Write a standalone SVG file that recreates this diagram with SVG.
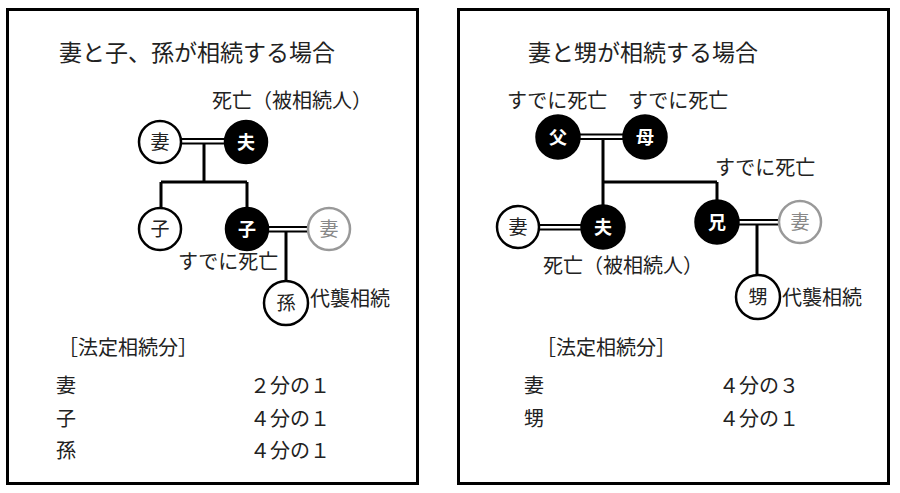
<svg xmlns="http://www.w3.org/2000/svg" width="900" height="493" viewBox="0 0 900 493">
<style>
  text { font-family: "Noto Sans CJK JP", "Noto Sans", sans-serif; fill: #222; }
  .title { font-size: 23px; }
  .lbl { font-size: 20px; }
  .nd { font-size: 19px; text-anchor: middle; }
  .ndw circle { fill: #fff; stroke: #000; stroke-width: 2.5; }
  .ndb circle { fill: #000; stroke: #000; stroke-width: 2.5; }
  .ndb text { fill: #fff; font-weight: bold; font-size: 18px; }
  .ndg circle { fill: #fff; stroke: #999; stroke-width: 2.5; }
  .ndg text { fill: #888; }
  .frame { fill: #fff; stroke: #000; stroke-width: 3; }
  .ln { stroke: #000; stroke-width: 3; fill: none; }
  .dbl { stroke: #000; stroke-width: 1.8; fill: none; }
</style>
<rect width="900" height="493" fill="#fff"/>
<rect class="frame" x="7.5" y="9.5" width="410" height="474"/>
<rect class="frame" x="458.5" y="9.5" width="430" height="474"/>

<g id="connectors">
  <!-- left -->
  <path class="dbl" d="M180 139H226M180 143.5H226"/>
  <path class="ln" d="M204 143.5V182M161 182H247M161 182V208M247 182V208"/>
  <path class="dbl" d="M268 227H308M268 231.5H308"/>
  <path class="ln" d="M286 231.5V281"/>
  <!-- right -->
  <path class="dbl" d="M580 134.5H624M580 139H624"/>
  <path class="ln" d="M603 139V206M603 182H717M717 182V201"/>
  <path class="dbl" d="M539 225H582M539 229.5H582"/>
  <path class="dbl" d="M738 220H779M738 224.5H779"/>
  <path class="ln" d="M757 224.5V275"/>
</g>

<g id="left-title"><text class="title" x="59" y="61">妻と子、孫が相続する場合</text></g>
<g id="left-labels">
  <text class="lbl" x="212" y="107.6">死亡（被相続人）</text>
  <text class="lbl" x="178" y="268.6">すでに死亡</text>
  <text class="lbl" x="310" y="305.6">代襲相続</text>
</g>
<g id="l-wife" class="ndw"><circle cx="160" cy="142" r="21"/><text class="nd" x="160" y="149">妻</text></g>
<g id="l-husband" class="ndb"><circle cx="246" cy="142" r="21"/><text class="nd" x="246" y="148.5">夫</text></g>
<g id="l-child1" class="ndw"><circle cx="160" cy="229" r="21"/><text class="nd" x="160" y="236">子</text></g>
<g id="l-child2" class="ndb"><circle cx="247" cy="229" r="21"/><text class="nd" x="247" y="235.5">子</text></g>
<g id="l-child2-wife" class="ndg"><circle cx="329" cy="229" r="21"/><text class="nd" x="329" y="236">妻</text></g>
<g id="l-grandchild" class="ndw"><circle cx="286" cy="303" r="22"/><text class="nd" x="286" y="310">孫</text></g>
<g id="left-shares">
  <text class="lbl" x="58" y="354.6">［法定相続分］</text>
  <text class="lbl" x="56" y="392.6">妻</text>
  <text class="lbl" x="250" y="392.6">２分の１</text>
  <text class="lbl" x="56" y="425.6">子</text>
  <text class="lbl" x="250" y="425.6">４分の１</text>
  <text class="lbl" x="56" y="457.6">孫</text>
  <text class="lbl" x="250" y="457.6">４分の１</text>
</g>

<g id="right-title"><text class="title" x="528" y="61">妻と甥が相続する場合</text></g>
<g id="right-labels">
  <text class="lbl" x="507" y="107.6">すでに死亡</text>
  <text class="lbl" x="628" y="107.6">すでに死亡</text>
  <text class="lbl" x="715" y="174.6">すでに死亡</text>
  <text class="lbl" x="543" y="272.6">死亡（被相続人）</text>
  <text class="lbl" x="782" y="304.6">代襲相続</text>
</g>
<g id="r-father" class="ndb"><circle cx="558" cy="137" r="21.5"/><text class="nd" x="558" y="143.5">父</text></g>
<g id="r-mother" class="ndb"><circle cx="645" cy="137" r="21.5"/><text class="nd" x="645" y="143.5">母</text></g>
<g id="r-wife" class="ndw"><circle cx="518" cy="227" r="21"/><text class="nd" x="518" y="234">妻</text></g>
<g id="r-husband" class="ndb"><circle cx="603" cy="227" r="21.5"/><text class="nd" x="603" y="233.5">夫</text></g>
<g id="r-brother" class="ndb"><circle cx="717" cy="222" r="21.5"/><text class="nd" x="717" y="228.5">兄</text></g>
<g id="r-brother-wife" class="ndg"><circle cx="800" cy="222" r="21"/><text class="nd" x="800" y="229">妻</text></g>
<g id="r-nephew" class="ndw"><circle cx="758" cy="297" r="22"/><text class="nd" x="758" y="304">甥</text></g>
<g id="right-shares">
  <text class="lbl" x="536" y="354.6">［法定相続分］</text>
  <text class="lbl" x="524" y="392.6">妻</text>
  <text class="lbl" x="719" y="392.6">４分の３</text>
  <text class="lbl" x="524" y="425.6">甥</text>
  <text class="lbl" x="719" y="425.6">４分の１</text>
</g>
</svg>
